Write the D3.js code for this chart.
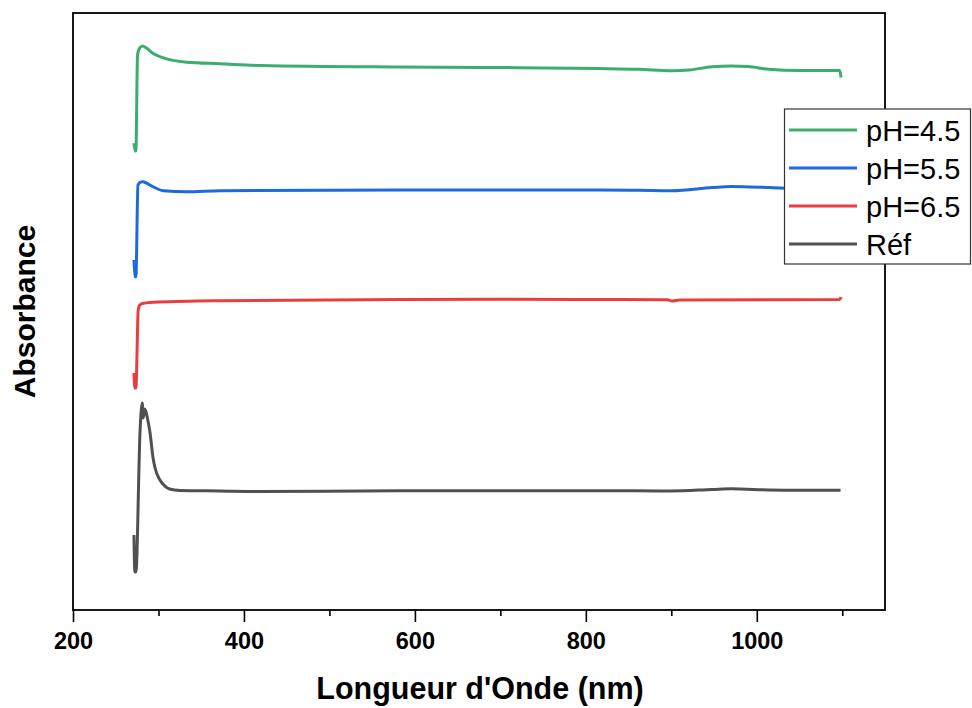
<!DOCTYPE html>
<html>
<head>
<meta charset="utf-8">
<script src="https://cdn.jsdelivr.net/npm/d3@7"></script>
<style>
  html, body { margin: 0; padding: 0; background: #fff; }
  svg { display: block; font-family: "Liberation Sans", Arial, sans-serif; }
</style>
</head>
<body>
<svg id="chart" width="972" height="708"></svg>
<script>
// UV-Vis absorbance spectra (wavelength in nm, absorbance in arbitrary stacked units)
const seriesNames = ["pH=4.5", "pH=5.5", "pH=6.5", "Réf"];
const seriesColors = ["#3aae6e", "#1c6ade", "#ea3d3f", "#505050"];

const wlPH45 = [271.3, 272.8, 273.6, 275.5, 278, 281.5, 286, 293, 305, 333, 372, 420, 582, 700, 816, 862, 901, 921, 948, 970, 990, 1014, 1049, 1097, 1098.6];
const absPH45 = [4.693, 4.613, 4.613, 5.578, 5.648, 5.668, 5.648, 5.598, 5.551, 5.505, 5.490, 5.472, 5.457, 5.452, 5.442, 5.434, 5.420, 5.427, 5.460, 5.467, 5.462, 5.434, 5.422, 5.422, 5.352];

const wlPH55 = [271.3, 272.8, 273.6, 276, 279, 281.8, 286, 293.5, 305.5, 333, 372, 582, 700, 816, 862, 901, 948, 970, 1014, 1049, 1097, 1098.6];
const absPH55 = [3.518, 3.350, 3.347, 4.271, 4.300, 4.305, 4.290, 4.254, 4.214, 4.204, 4.214, 4.221, 4.221, 4.221, 4.218, 4.214, 4.246, 4.256, 4.246, 4.236, 4.236, 4.260];

const wlPH65 = [271.3, 272.4, 273.6, 276.3, 278, 282.4, 300, 372, 582, 700, 816, 895, 901, 910, 1097, 1098.6];
const absPH65 = [2.382, 2.231, 2.231, 3.015, 3.065, 3.082, 3.095, 3.109, 3.121, 3.123, 3.121, 3.119, 3.106, 3.116, 3.121, 3.146];

const wlRef = [271.3, 272.4, 273.6, 278.5, 281, 282, 284.1, 287, 290, 293.5, 296, 301.7, 307.5, 313, 325, 372, 420, 582, 816, 900, 948, 970, 1014, 1049, 1098];
const absRef = [0.754, 0.382, 0.382, 1.809, 2.080, 1.930, 2.020, 1.930, 1.789, 1.538, 1.427, 1.307, 1.246, 1.216, 1.201, 1.196, 1.191, 1.198, 1.199, 1.196, 1.211, 1.218, 1.206, 1.203, 1.203];

const xTicks = [200, 400, 600, 800, 1000];
const xMinorTicks = [300, 500, 700, 900, 1100];
const xDomain = [200, 1150];
const yDomain = [0, 6];

const seriesData = [
  { wl: wlPH45, abs: absPH45 },
  { wl: wlPH55, abs: absPH55 },
  { wl: wlPH65, abs: absPH65 },
  { wl: wlRef, abs: absRef }
];

const svg = d3.select("#chart");
const plot = { left: 73, right: 885, top: 13, bottom: 610 };

const x = d3.scaleLinear().domain(xDomain).range([plot.left, plot.right]);
const y = d3.scaleLinear().domain(yDomain).range([plot.bottom, plot.top]);

// Clip curves to the plotting frame
svg.append("defs").append("clipPath").attr("id", "plotClip")
  .append("rect")
  .attr("x", plot.left).attr("y", plot.top)
  .attr("width", plot.right - plot.left).attr("height", plot.bottom - plot.top);

const line = d3.line()
  .x(d => x(d[0]))
  .y(d => y(d[1]))
  .curve(d3.curveMonotoneX);

const curves = svg.append("g").attr("clip-path", "url(#plotClip)");
seriesData.forEach((s, i) => {
  const pts = s.wl.map((w, k) => [w, s.abs[k]]);
  curves.append("path")
    .datum(pts)
    .attr("d", line)
    .attr("fill", "none")
    .attr("stroke", seriesColors[i])
    .attr("stroke-width", 3)
    .attr("stroke-linejoin", "round")
    .attr("stroke-linecap", "butt");
});

// Bottom axis: major ticks with labels
const xAxis = d3.axisBottom(x)
  .tickValues(xTicks)
  .tickSize(12)
  .tickPadding(10)
  .tickFormat(d3.format("d"));

const gx = svg.append("g")
  .attr("transform", `translate(0,${plot.bottom})`)
  .call(xAxis);
gx.select(".domain").remove();
gx.selectAll(".tick line").attr("stroke", "#000").attr("stroke-width", 1.6);
gx.selectAll(".tick text")
  .attr("fill", "#000")
  .attr("font-size", 23.5)
  .attr("font-weight", "bold")
  .attr("font-family", "'Liberation Sans', Arial, sans-serif");

// Minor ticks
const xAxisMinor = d3.axisBottom(x)
  .tickValues(xMinorTicks)
  .tickSize(6)
  .tickFormat("");
const gxm = svg.append("g")
  .attr("transform", `translate(0,${plot.bottom})`)
  .call(xAxisMinor);
gxm.select(".domain").remove();
gxm.selectAll(".tick line").attr("stroke", "#000").attr("stroke-width", 1.6);

// Frame around the plot
svg.append("rect")
  .attr("x", plot.left).attr("y", plot.top)
  .attr("width", plot.right - plot.left).attr("height", plot.bottom - plot.top)
  .attr("fill", "none")
  .attr("stroke", "#000")
  .attr("stroke-width", 1.8);

// Axis titles
svg.append("text")
  .attr("x", (plot.left + plot.right) / 2 + 1)
  .attr("y", 699)
  .attr("text-anchor", "middle")
  .attr("font-size", 30.5)
  .attr("font-weight", "bold")
  .attr("fill", "#000")
  .text("Longueur d'Onde (nm)");

svg.append("text")
  .attr("transform", `translate(35,${(plot.top + plot.bottom) / 2}) rotate(-90)`)
  .attr("text-anchor", "middle")
  .attr("font-size", 30)
  .attr("font-weight", "bold")
  .attr("fill", "#000")
  .text("Absorbance");

// Legend
const legend = svg.append("g");
legend.append("rect")
  .attr("x", 784.5).attr("y", 109)
  .attr("width", 186).attr("height", 155)
  .attr("fill", "#fff")
  .attr("stroke", "#333")
  .attr("stroke-width", 1.2);

seriesNames.forEach((name, i) => {
  const ly = 130 + i * 38;
  legend.append("line")
    .attr("x1", 789).attr("x2", 857)
    .attr("y1", ly).attr("y2", ly)
    .attr("stroke", seriesColors[i])
    .attr("stroke-width", 3);
  legend.append("text")
    .attr("x", 866)
    .attr("y", ly + 11)
    .attr("font-size", 29)
    .attr("fill", "#000")
    .text(name);
});
</script>
</body>
</html>
